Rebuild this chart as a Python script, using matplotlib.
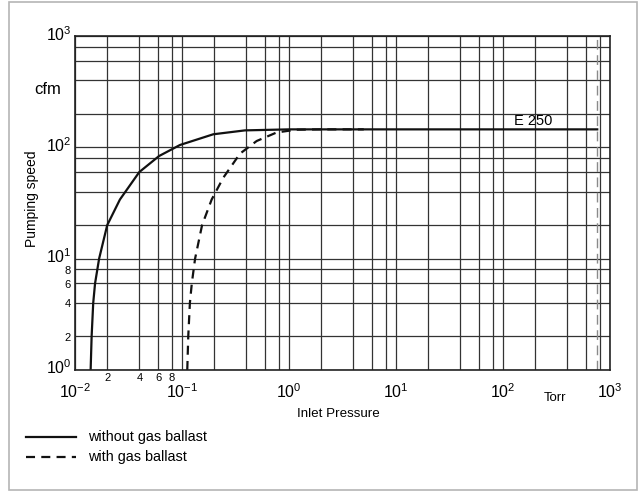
import matplotlib
matplotlib.use("Agg")
import matplotlib.pyplot as plt
from matplotlib.lines import Line2D
from matplotlib.patches import Rectangle
from matplotlib.ticker import FixedLocator
from matplotlib.transforms import blended_transform_factory, offset_copy

plt.rcParams["font.family"] = ["Liberation Sans", "DejaVu Sans"]
plt.rcParams["mathtext.fontset"] = "custom"
plt.rcParams["mathtext.rm"] = "Liberation Sans"
plt.rcParams["mathtext.it"] = "Liberation Sans:italic"
plt.rcParams["mathtext.bf"] = "Liberation Sans:bold"
plt.rcParams["lines.scale_dashes"] = False

# pumping speed curves of the E 250 (pressure in Torr, speed in cfm)
p_without = [0.0140, 0.0143, 0.0148, 0.0154, 0.0168, 0.020, 0.0263, 0.0399,
             0.061, 0.0958, 0.196, 0.388, 1.0, 2.0, 760]
s_without = [1.0, 2, 4, 6, 10, 20, 34, 60, 83.5, 105, 131, 142, 145, 145, 145]

p_with = [0.112, 0.1144, 0.1185, 0.1235, 0.1325, 0.154, 0.1894, 0.243, 0.348,
          0.499, 0.767, 1.17, 2.0, 5.0]
s_with = [1.0, 2, 4, 6, 10, 20, 34, 53.3, 87.7, 114, 136, 144, 145, 145]

atm_torr = 760

x_major = [1e-2, 1e-1, 1e0, 1e1, 1e2, 1e3]
x_major_labels = ["$10^{-2}$", "$10^{-1}$", "$10^{0}$", "$10^{1}$", "$10^{2}$", "$10^{3}$"]
y_major = [1e0, 1e1, 1e2, 1e3]
y_major_labels = ["$10^{0}$", "$10^{1}$", "$10^{2}$", "$10^{3}$"]
minor_mult = [2, 4, 6, 8]

fig = plt.figure(figsize=(6.4, 4.92), dpi=100)
ax = fig.add_axes([75 / 640, 122 / 492, 535 / 640, 334 / 492])
ax.set_xscale("log")
ax.set_yscale("log")
ax.set_xlim(1e-2, 1e3)
ax.set_ylim(1e0, 1e3)

# grid: decades plus 2, 4, 6, 8 in each decade
x_minor = [m * d for d in x_major[:-1] for m in minor_mult]
y_minor = [m * d for d in y_major[:-1] for m in minor_mult]
ax.xaxis.set_major_locator(FixedLocator(x_major))
ax.xaxis.set_minor_locator(FixedLocator(x_minor))
ax.yaxis.set_major_locator(FixedLocator(y_major))
ax.yaxis.set_minor_locator(FixedLocator(y_minor))
ax.tick_params(which="both", length=0, labelbottom=False, labelleft=False)
ax.grid(which="both", color="#333333", lw=0.9)
for sp in ax.spines.values():
    sp.set_linewidth(1.2)
    sp.set_color("#222222")

# tick labels placed by hand (baseline offsets in pixels)
xt = blended_transform_factory(ax.transData, ax.transAxes)
yt = blended_transform_factory(ax.transAxes, ax.transData)
for x, lab in zip(x_major, x_major_labels):
    ax.text(x, 0, lab, fontsize=11.5, ha="center", va="baseline",
            transform=offset_copy(xt, fig=fig, x=0, y=-28, units="dots"))
for m in minor_mult:
    ax.text(m * x_major[0], 0, str(m), fontsize=8, ha="center", va="baseline",
            transform=offset_copy(xt, fig=fig, x=0, y=-11, units="dots"))
for y, lab in zip(y_major, y_major_labels):
    ax.text(0, y, lab, fontsize=11.5, ha="right", va="baseline",
            transform=offset_copy(yt, fig=fig, x=-3, y=-4.5, units="dots"))
for m in minor_mult:
    ax.text(0, m * y_major[0], str(m), fontsize=8, ha="right", va="baseline",
            transform=offset_copy(yt, fig=fig, x=-4, y=-4.5, units="dots"))

ax.axvline(atm_torr, color="#8a8a8a", lw=1.0, dashes=(7, 4))
ax.plot(p_without, s_without, color="#111111", lw=1.6)
ax.plot(p_with, s_with, color="#111111", lw=1.6, dashes=(6.5, 4.5))
ax.text(127, 150, "E 250", fontsize=10.5, va="bottom", ha="left")

# axis titles
fig.text(48 / 640, 1 - 89 / 492, "cfm", fontsize=12, ha="center", va="center")
fig.text(32 / 640, 1 - 199 / 492, "Pumping speed", fontsize=10, rotation=90,
         ha="center", va="center")
fig.text(338 / 640, 1 - 414 / 492, "Inlet Pressure", fontsize=9.6,
         ha="center", va="center")
fig.text(555 / 640, 1 - 398 / 492, "Torr", fontsize=9.5, ha="center", va="center")

# legend
fig.add_artist(Line2D([26 / 640, 76 / 640], [1 - 437 / 492] * 2, color="#111111", lw=1.6))
fig.add_artist(Line2D([26 / 640, 76 / 640], [1 - 457 / 492] * 2, color="#111111", lw=1.6,
                      dashes=(6.5, 4.5)))
fig.text(88 / 640, 1 - 437 / 492, "without gas ballast", fontsize=10.4, va="center")
fig.text(88 / 640, 1 - 457 / 492, "with gas ballast", fontsize=10.4, va="center")

# frame around the whole figure
fig.add_artist(Rectangle((9 / 640, 2 / 492), 628 / 640, 488 / 492,
                         transform=fig.transFigure, fill=False,
                         edgecolor="#b5b5b5", lw=1.2))

fig.savefig("out.png", dpi=100)
